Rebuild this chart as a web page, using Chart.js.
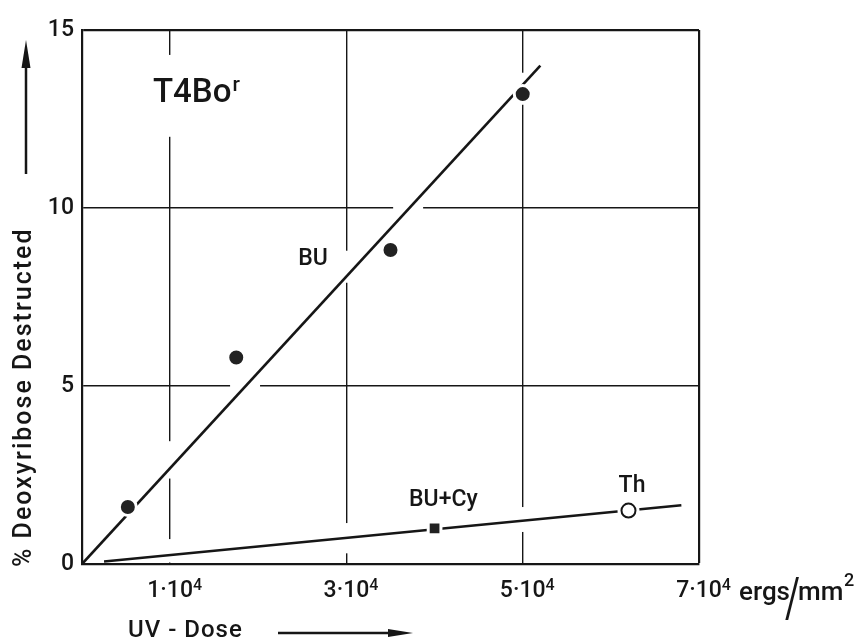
<!DOCTYPE html>
<html>
<head>
<meta charset="utf-8">
<script src="https://cdn.jsdelivr.net/npm/chart.js@4"></script>
<style>
  html, body { margin: 0; padding: 0; background: #fff; }
</style>
</head>
<body>
<canvas id="chart" width="856" height="640"></canvas>
<script>
// values (dose in ergs/mm^2, % deoxyribose destructed)
const doseTicks = [10000, 30000, 50000, 70000];
const pctTicks = [0, 5, 10, 15];

const buDose = [5200, 17500, 35000, 50000];
const buPct = [1.6, 5.8, 8.82, 13.2];
const buFitDose = [0, 52000];
const buFitPct = [0, 14.0];

const cyDose = [40000];
const cyPct = [1.0];
const thDose = [62000];
const thPct = [1.5];
const lowFitDose = [2500, 68000];
const lowFitPct = [0.07, 1.65];

const INK = "#161616";
const FONT = "Roboto, 'Liberation Sans', Arial, sans-serif";
const WEIGHT = 500;

function pts(xs, ys) {
  return xs.map((x, i) => ({ x: x, y: ys[i] }));
}

// gaps in the hand-drawn grid lines (data units)
const vGaps = { 10000: [[0, 0.7], [2.4, 3.45], [12.0, 14.3]], 30000: [[0.3, 1.15], [7.9, 8.8]], 50000: [[0.9, 1.6], [12.9, 13.8]] };
const hGaps = { 5: [[16800, 20200]], 10: [[35300, 38700]] };

const gridGaps = {
  id: "gridGaps",
  beforeDatasetsDraw(chart) {
    const { ctx, scales: { x, y } } = chart;
    ctx.save();
    ctx.fillStyle = "#fff";
    for (const k in vGaps) {
      const px = x.getPixelForValue(+k);
      vGaps[k].forEach(([a, b]) => {
        const y1 = y.getPixelForValue(b), y2 = y.getPixelForValue(a);
        ctx.fillRect(px - 3, y1, 6, y2 - y1 - (a === 0 ? 1.5 : 0));
      });
    }
    for (const k in hGaps) {
      const py = y.getPixelForValue(+k);
      hGaps[k].forEach(([a, b]) => {
        const x1 = x.getPixelForValue(a), x2 = x.getPixelForValue(b);
        ctx.fillRect(x1, py - 3, x2 - x1, 6);
      });
    }
    ctx.restore();
  }
};

function font(size) {
  return WEIGHT + " " + size + "px " + FONT;
}

const labels = {
  id: "labels",
  afterDraw(chart) {
    const { ctx, scales: { x, y } } = chart;
    ctx.save();
    ctx.fillStyle = INK;
    ctx.strokeStyle = INK;
    ctx.textBaseline = "alphabetic";

    // exponent on the dose tick labels
    ctx.font = font(23);
    const sup = [];
    x.ticks.forEach((t) => {
      const lbl = (t.value / 10000) + "·10";
      sup.push([x.getPixelForValue(t.value) + ctx.measureText(lbl).width / 2, 590]);
    });
    ctx.font = font(16);
    ctx.textAlign = "left";
    sup.forEach(([sx, sy]) => ctx.fillText("4", sx, sy));

    // T4Bo^r
    let lx = x.getPixelForValue(8055), ly = y.getPixelForValue(12.98);
    ctx.font = font(33);
    ctx.fillText("T4Bo", lx, ly);
    const w = ctx.measureText("T4Bo").width;
    ctx.font = font(21);
    ctx.fillText("r", lx + w + 1, ly - 11);

    // curve labels
    ctx.textAlign = "center";
    ctx.textBaseline = "middle";
    ctx.font = font(23);
    ctx.fillText("BU", x.getPixelForValue(26200), y.getPixelForValue(8.57));
    ctx.fillText("BU+Cy", x.getPixelForValue(41000), y.getPixelForValue(1.8));
    ctx.fillText("Th", x.getPixelForValue(62400), y.getPixelForValue(2.19));

    // unit after the last tick
    const ux = 739, ub = 600;
    ctx.textAlign = "left";
    ctx.textBaseline = "alphabetic";
    ctx.font = font(26);
    ctx.fillText("ergs", ux, ub);
    ctx.save();
    ctx.translate(785, 617);
    ctx.scale(1.3, 1.95);
    ctx.font = "400 28px " + FONT;
    ctx.fillText("/", 0, 0);
    ctx.restore();
    ctx.font = font(26);
    ctx.fillText("mm", 798, ub);
    ctx.font = font(18);
    ctx.fillText("2", 844, 586);

    // x title with arrow
    ctx.font = font(24);
    ctx.letterSpacing = "1px";
    ctx.fillText("UV - Dose", 128, 637);
    ctx.letterSpacing = "0px";
    ctx.lineWidth = 2.5;
    ctx.beginPath();
    ctx.moveTo(278, 633);
    ctx.lineTo(396, 633);
    ctx.stroke();
    ctx.beginPath();
    ctx.moveTo(413, 633);
    ctx.lineTo(388, 629);
    ctx.lineTo(388, 637);
    ctx.closePath();
    ctx.fill();

    // y title with arrow
    ctx.save();
    ctx.translate(25, 567);
    ctx.rotate(-Math.PI / 2);
    ctx.font = font(25);
    ctx.letterSpacing = "2px";
    ctx.textBaseline = "middle";
    ctx.fillText("% Deoxyribose Destructed", 0, 0);
    ctx.restore();
    ctx.lineWidth = 2.5;
    ctx.beginPath();
    ctx.moveTo(26, 174);
    ctx.lineTo(26, 60);
    ctx.stroke();
    ctx.beginPath();
    ctx.moveTo(26, 40);
    ctx.lineTo(21.5, 68);
    ctx.lineTo(30.5, 68);
    ctx.closePath();
    ctx.fill();
    ctx.restore();
  }
};

new Chart(document.getElementById("chart"), {
  type: "scatter",
  data: {
    datasets: [
      {
        type: "line",
        label: "BU fit",
        data: pts(buFitDose, buFitPct),
        borderColor: INK,
        borderWidth: 2.6,
        pointRadius: 0,
        order: 2
      },
      {
        type: "line",
        label: "BU+Cy / Th fit",
        data: pts(lowFitDose, lowFitPct),
        borderColor: INK,
        borderWidth: 2.6,
        pointRadius: 0,
        order: 2
      },
      {
        label: "BU",
        data: pts(buDose, buPct),
        pointStyle: "circle",
        pointRadius: 8.5,
        backgroundColor: "#222",
        borderColor: "#fff",
        borderWidth: 3,
        order: 1
      },
      {
        label: "BU+Cy",
        data: pts(cyDose, cyPct),
        pointStyle: "rect",
        pointRadius: 9,
        backgroundColor: "#222",
        borderColor: "#fff",
        borderWidth: 3,
        order: 1
      },
      {
        label: "Th halo",
        data: pts(thDose, thPct),
        pointStyle: "circle",
        pointRadius: 11,
        backgroundColor: "#fff",
        borderWidth: 0,
        order: 1
      },
      {
        label: "Th",
        data: pts(thDose, thPct),
        pointStyle: "circle",
        pointRadius: 7,
        backgroundColor: "#fff",
        borderColor: INK,
        borderWidth: 2,
        order: 0
      }
    ]
  },
  options: {
    responsive: false,
    animation: false,
    devicePixelRatio: 1,
    layout: { padding: { top: 30, right: 157, left: 0, bottom: 0 } },
    plugins: {
      legend: { display: false },
      tooltip: { enabled: false }
    },
    scales: {
      x: {
        type: "linear",
        min: 0,
        max: 70000,
        afterBuildTicks: (s) => { s.ticks = doseTicks.map((v) => ({ value: v })); },
        afterFit: (s) => { s.height = 76; },
        ticks: {
          autoSkip: false,
          maxRotation: 0,
          padding: 13,
          color: INK,
          font: { family: FONT, size: 23, weight: WEIGHT },
          callback: (v) => (v / 10000) + "·10"
        },
        grid: {
          color: INK,
          drawTicks: false,
          lineWidth: (c) => (c.tick && c.tick.value === 70000 ? 2.2 : 1.4)
        },
        border: { color: INK, width: 2.2 }
      },
      y: {
        min: 0,
        max: 15,
        afterBuildTicks: (s) => { s.ticks = pctTicks.map((v) => ({ value: v })); },
        afterFit: (s) => { s.width = 82; },
        ticks: {
          padding: 8,
          color: INK,
          font: { family: FONT, size: 23, weight: WEIGHT }
        },
        grid: {
          color: INK,
          drawTicks: false,
          lineWidth: (c) => (c.tick && c.tick.value === 15 ? 2.2 : 1.4)
        },
        border: { color: INK, width: 2.2 }
      }
    }
  },
  plugins: [gridGaps, labels]
});
</script>
</body>
</html>
